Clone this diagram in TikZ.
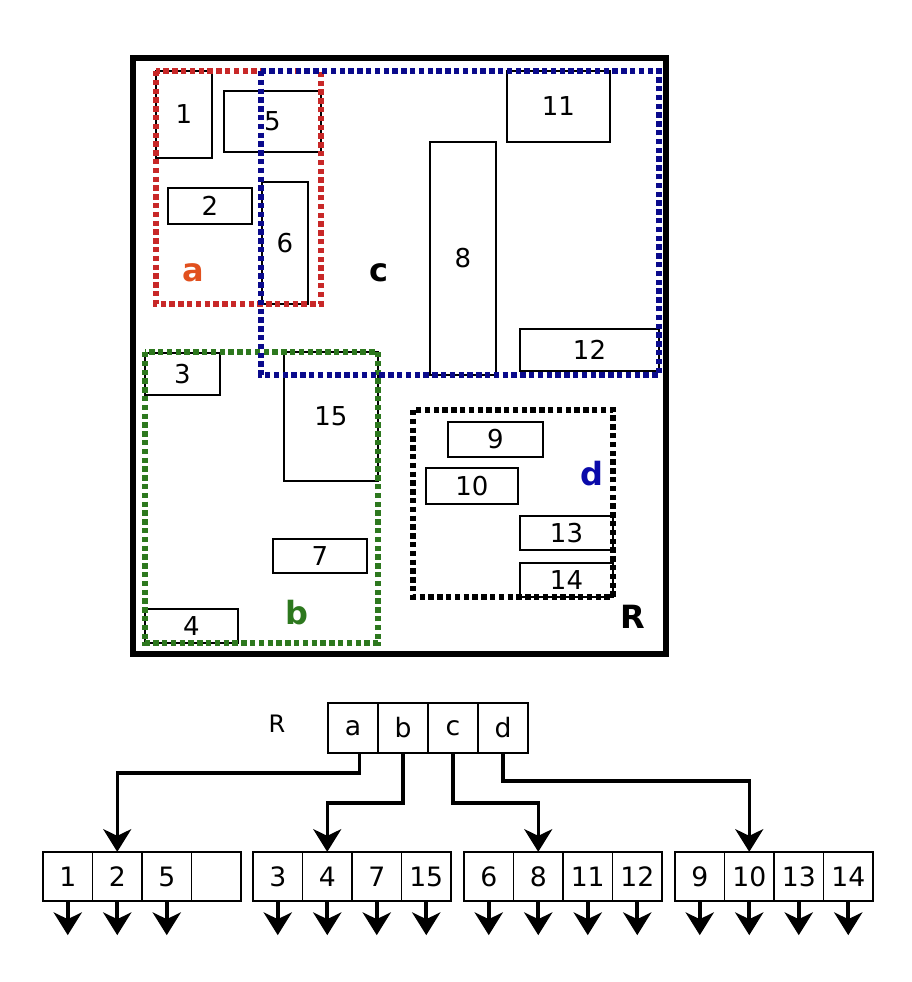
\documentclass[tikz,border=0pt]{standalone}
\usepackage{fontspec}
\setmainfont{DejaVu Sans}
\usetikzlibrary{arrows.meta}

\definecolor{boxred}{RGB}{200,40,40}
\definecolor{boxblue}{RGB}{10,10,140}
\definecolor{boxgreen}{RGB}{45,120,30}
\definecolor{tagred}{RGB}{225,80,30}
\definecolor{tagblue}{RGB}{10,10,170}

\tikzset{
  rect/.style={draw, line width=1pt},
  num/.style={font=\fontsize{19.5}{23}\selectfont},
  tag/.style={font=\bfseries\fontsize{24}{28}\selectfont},
  dotbox/.style={line width=4.5pt, dash pattern=on 4pt off 2.6pt},
  cell/.style={draw, line width=1.2pt, inner sep=0pt, outer sep=0pt,
    minimum width=37.2pt, minimum height=37pt, font=\fontsize{20}{23}\selectfont},
  link/.style={line width=2.4pt, -{Stealth[length=17pt,width=21pt,inset=5pt]}},
  leafarrow/.style={line width=3pt, -{Stealth[length=17pt,width=21pt,inset=5pt]}}
}

\begin{document}
\begin{tikzpicture}[x=0.75pt, y=-0.75pt]
  \useasboundingbox (0,0) rectangle (912,982);
  % outer region R
  \draw[line width=4.5pt] (133,58) rectangle (666,654);
  % data rectangles
  \foreach \n/\xa/\ya/\xb/\yb in {1/156/71/212/158, 5/224/91/321/152, 2/168/188/252/224,
      6/262/182/308/304, 8/430/142/496/375, 11/507/71/610/142, 12/520/329/659/371,
      3/145/353/220/395, 15/284/352/378/481, 7/273/539/367/573, 4/145/609/238/643,
      9/448/422/543/457, 10/426/468/518/504, 13/520/516/613/550, 14/520/563/613/597} {
    \draw[rect] (\xa,\ya) rectangle (\xb,\yb);
    \node[num] (r\n) at ({(\xa+\xb)/2},{(\ya+\yb)/2}) {\n};
  }
  % bounding boxes a, b, c, d
  \draw[dotbox, boxred] (156,71) rectangle (321,304);
  \draw[dotbox, boxgreen] (145,352) rectangle (378,643);
  \draw[dotbox, boxblue] (261,71) rectangle (659,375);
  \draw[dotbox, black] (413,410) rectangle (613,597);
  \node[tag, tagred] (tag-a) at (193,273) {a};
  \node[tag, boxgreen] (tag-b) at (297,613) {b};
  \node[tag] (tag-c) at (379,273) {c};
  \node[tag, tagblue] (tag-d) at (592,474) {d};
  \node[tag] (tag-R) at (633,617) {R};

  % root node
  \node[font=\fontsize{18}{21}\selectfont] (rootname) at (277,724) {R};
  \foreach \t [count=\i] in {a,b,c,d} {
    \node[cell, minimum height=37.5pt] (root-\t) at (328+50*\i-25,728) {\t};
  }
  % leaves
  \foreach \l/\x/\list in {1/43/{1,2,5,{}}, 2/253/{3,4,7,15}, 3/464/{6,8,11,12}, 4/675/{9,10,13,14}} {
    \foreach \t [count=\i] in \list {
      \node[cell] (leaf\l-\i) at (\x+49.5*\i-24.75,876.5) {\t};
    }
  }
  % pointers from the root
  \draw[link] ([xshift=5pt]root-a.south) -- ++(0,20) -| (leaf1-2.north);
  \draw[link] (root-b.south) -- ++(0,50) -| (leaf2-2.north);
  \draw[link] (root-c.south) -- ++(0,50) -| (leaf3-2.north);
  \draw[link] (root-d.south) -- ++(0,28) -| (leaf4-2.north);
  % pointers from the leaves
  \foreach \l/\m in {1/3, 2/4, 3/4, 4/4} {
    \foreach \i in {1,...,\m} {
      \draw[leafarrow] (leaf\l-\i.south) -- ++(0,34);
    }
  }
\end{tikzpicture}
\end{document}
